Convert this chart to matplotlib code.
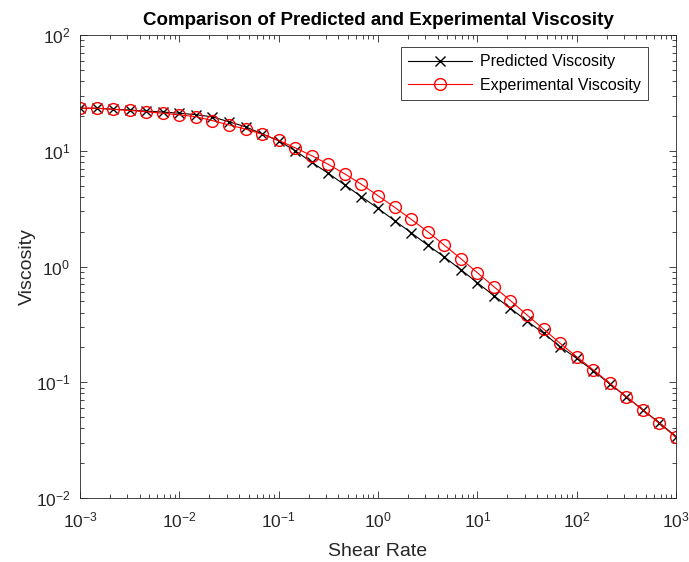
import numpy as np
import matplotlib
matplotlib.use("Agg")
import matplotlib.pyplot as plt

plt.rcParams['font.family'] = ['Liberation Sans', 'DejaVu Sans']
plt.rcParams['axes.unicode_minus'] = False

# shear rate, 37 points log spaced 1e-3 .. 1e3
shear_rate = np.logspace(-3, 3, 37)

predicted = [23.3, 23.3, 22.8, 22.5, 22.0, 21.6, 21.1, 20.5, 19.6, 17.8,
             16.1, 14.0, 12.2, 10.0, 7.94, 6.38, 5.06, 4.01, 3.18, 2.49,
             1.96, 1.53, 1.21, 0.94, 0.724, 0.560, 0.435, 0.338, 0.265, 0.203,
             0.161, 0.126, 0.0966, 0.0750, 0.0576, 0.0447, 0.0339]

experimental = [23.3, 23.3, 22.8, 22.3, 21.7, 21.1, 20.4, 19.7, 18.2, 16.7,
                15.4, 13.9, 12.3, 10.6, 9.06, 7.63, 6.30, 5.13, 4.09, 3.25,
                2.56, 2.00, 1.53, 1.17, 0.884, 0.669, 0.507, 0.381, 0.288, 0.217,
                0.166, 0.128, 0.098, 0.075, 0.0576, 0.0442, 0.0334]

xtick_exp = [-3, -2, -1, 0, 1, 2, 3]
ytick_exp = [-2, -1, 0, 1, 2]

fig = plt.figure(figsize=(6.89, 5.62), dpi=100)
ax = fig.add_axes([80/689, 64/562, 596/689, 463/562])

ax.loglog(shear_rate, predicted, color='k', marker='x', markersize=7,
          linewidth=0.8, label='Predicted Viscosity')
ax.loglog(shear_rate, experimental, color='r', marker='o', markersize=8.5,
          markerfacecolor='none', linewidth=0.8, label='Experimental Viscosity')

ax.set_xlim(1e-3, 1e3)
ax.set_ylim(1e-2, 1e2)
ax.set_xticks([10.0**e for e in xtick_exp])
ax.set_xticklabels(['$\\mathdefault{10^{%d}}$' % e for e in xtick_exp])
ax.set_yticks([10.0**e for e in ytick_exp])
ax.set_yticklabels(['$\\mathdefault{10^{%d}}$' % e for e in ytick_exp])

ax.tick_params(which='both', direction='in', top=True, right=True,
               colors='0.15', labelsize=12.5, labelcolor='0.15')
ax.tick_params(which='major', length=5, width=0.6)
ax.tick_params(axis='x', which='major', pad=9)
ax.tick_params(axis='y', which='major', pad=7)
ax.tick_params(which='minor', length=3, width=0.6)
for sp in ax.spines.values():
    sp.set_color('0.15')
    sp.set_linewidth(0.6)

ax.set_xlabel('Shear Rate', fontsize=14, color='0.15', labelpad=9)
ax.set_ylabel('Viscosity', fontsize=14, color='0.15', labelpad=0)
ax.set_title('Comparison of Predicted and Experimental Viscosity',
             fontsize=13.5, fontweight='bold', pad=7)

leg = ax.legend(loc='upper right', fontsize=11.5, fancybox=False,
                framealpha=1, edgecolor='0.15', bbox_to_anchor=(0.953, 0.974),
                borderaxespad=0, handlelength=4.0, handletextpad=0.5,
                borderpad=0.45, labelspacing=0.55)
leg.get_frame().set_linewidth(0.6)

fig.savefig('out.png', dpi=100)
